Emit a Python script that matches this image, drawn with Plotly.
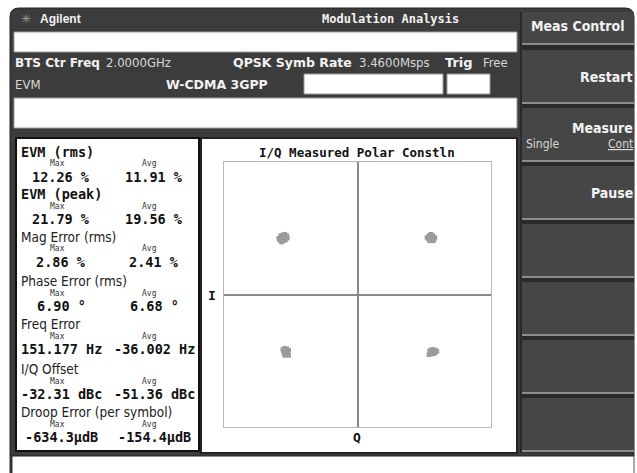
import plotly.graph_objects as go

W, H = 637, 473

# Measured results shown in the metrics panel
metric_labels = ["EVM (rms)", "EVM (peak)", "Mag Error (rms)", "Phase Error (rms)",
                 "Freq Error", "I/Q Offset", "Droop Error (per symbol)"]
metric_bold = [True, True, False, False, False, False, False]
metric_max = ["12.26 %", "21.79 %", "2.86 %", "6.90 °", "151.177 Hz", "-32.31 dBc", "-634.3µdB"]
metric_avg = ["11.91 %", "19.56 %", "2.41 %", "6.68 °", "-36.002 Hz", "-51.36 dBc", "-154.4µdB"]

# QPSK constellation: measured symbol points (Q, I), one group per quadrant
sym_q_tl = [-0.59, -0.575, -0.56, -0.545, -0.53, -0.575, -0.56, -0.545, -0.585, -0.555, -0.54, -0.525, -0.57]
sym_i_tl = [0.425, 0.445, 0.45, 0.455, 0.445, 0.425, 0.43, 0.435, 0.41, 0.405, 0.41, 0.425, 0.395]
sym_q_tr = [0.52, 0.535, 0.55, 0.565, 0.58, 0.53, 0.545, 0.56, 0.575, 0.54, 0.555, 0.57, 0.55]
sym_i_tr = [0.43, 0.445, 0.45, 0.445, 0.43, 0.42, 0.425, 0.43, 0.42, 0.405, 0.41, 0.405, 0.455]
sym_q_bl = [-0.56, -0.545, -0.53, -0.515, -0.555, -0.54, -0.525, -0.55, -0.535, -0.52, -0.545, -0.515]
sym_i_bl = [-0.415, -0.405, -0.41, -0.42, -0.43, -0.425, -0.43, -0.445, -0.445, -0.45, -0.46, -0.46]
sym_q_br = [0.54, 0.555, 0.57, 0.585, 0.595, 0.55, 0.565, 0.58, 0.545, 0.56, 0.575, 0.535]
sym_i_br = [-0.425, -0.415, -0.415, -0.42, -0.43, -0.435, -0.44, -0.44, -0.445, -0.45, -0.445, -0.455]

# Softkey menu
menu_title = "Meas Control"
softkeys = ["Restart", "Measure", "Pause", "", "", "", ""]

BEZEL = "#3c3c3c"
KEY = "#464646"
MONO = "DejaVu Sans Mono"
SANS = "DejaVu Sans"
NARROW = "DejaVu Sans Condensed, Liberation Sans Narrow, DejaVu Sans Mono"
KEYFONT = "DejaVu Sans Condensed, DejaVu Sans"


def X(px):
    return px / W


def Y(py):
    return 1 - py / H


shapes = []
annotations = []


def rect(x0, y0, x1, y1, fill, line=None, lw=0):
    shapes.append(dict(type="rect", xref="paper", yref="paper",
                       x0=X(x0), x1=X(x1), y0=Y(y1), y1=Y(y0),
                       fillcolor=fill, line=dict(color=line or fill, width=lw),
                       layer="below"))


def hline(x0, x1, y, color, lw):
    shapes.append(dict(type="line", xref="paper", yref="paper",
                       x0=X(x0), x1=X(x1), y0=Y(y), y1=Y(y),
                       line=dict(color=color, width=lw), layer="below"))


def vline(x, y0, y1, color, lw):
    shapes.append(dict(type="line", xref="paper", yref="paper",
                       x0=X(x), x1=X(x), y0=Y(y0), y1=Y(y1),
                       line=dict(color=color, width=lw), layer="below"))


def text(x, y, s, size, color="#111", family=MONO, anchor="left"):
    annotations.append(dict(x=X(x), y=Y(y), xref="paper", yref="paper", text=s,
                            showarrow=False, xanchor=anchor, yanchor="middle",
                            borderpad=0,
                            font=dict(family=family, size=size, color=color)))


# Instrument bezel with rounded top corners
r = 9
bx0, by0, bx1, by1 = 10, 8, 634, 456
path = (f"M {X(bx0)},{Y(by1)} L {X(bx0)},{Y(by0 + r)} "
        f"Q {X(bx0)},{Y(by0)} {X(bx0 + r)},{Y(by0)} "
        f"L {X(bx1 - r)},{Y(by0)} Q {X(bx1)},{Y(by0)} {X(bx1)},{Y(by0 + r)} "
        f"L {X(bx1)},{Y(by1)} Z")
shapes.append(dict(type="path", xref="paper", yref="paper", path=path,
                   fillcolor=BEZEL, line=dict(color="#222", width=1), layer="below"))
vline(11, 456, 473, "#333", 3)
vline(634, 456, 473, "#555", 1)

# Status bars
rect(14, 32, 517, 52, "white", "#9a9a9a", 1)
rect(14, 98, 517, 128, "white", "#9a9a9a", 1)
rect(304, 74, 443, 94, "white", "#9a9a9a", 1)
rect(447, 74, 490, 94, "white", "#9a9a9a", 1)

# Measurement panels
rect(201, 138, 517, 453, "white", "#222", 2)
rect(16, 138, 199, 451, "white", "#111", 2)

# Softkey column
rect(520, 12, 634, 453, "#2a2a2a")
rect(522, 12, 634, 44, KEY)
hline(522, 634, 44, "#8c8c8c", 2)
key_top = 50
for i, label in enumerate(softkeys):
    y0 = key_top + i * 58
    y1 = y0 + 53
    rect(522, y0, 634, y1, KEY)
    hline(522, 634, y1, "#8c8c8c", 2)

# Header texts
text(26, 19, "✳", 12, "#9a9a9a", SANS, "center")
text(39, 19, "<b>Agilent</b>", 12, "#f2f2f2", "Liberation Sans")
text(390, 19, "<b>Modulation Analysis</b>", 12, "#f2f2f2", MONO, "center")
text(530, 26, f"<b>{menu_title}</b>", 14, "#f2f2f2", KEYFONT)

text(14, 63, "<b>BTS Ctr Freq</b>", 12, "#f2f2f2", SANS)
text(105, 63, "2.0000GHz", 13, "#d8d8d8", NARROW)
text(232, 63, "<b>QPSK Symb Rate</b>", 12.5, "#f2f2f2", SANS)
text(358, 63, "3.4600Msps", 13, "#d8d8d8", NARROW)
text(444, 63, "<b>Trig</b>", 13, "#f2f2f2", SANS)
text(482, 63, "Free", 13, "#d8d8d8", NARROW)
text(14, 84, "EVM", 13, "#d8d8d8", NARROW)
text(165, 84, "<b>W-CDMA 3GPP</b>", 12.5, "#f2f2f2", SANS)

# Softkey labels
text(634, 77, "<b>Restart</b>", 14, "#f2f2f2", KEYFONT, "right")
text(634, 128, "<b>Measure</b>", 14, "#f2f2f2", KEYFONT, "right")
text(525, 144, "Single", 12, "#d8d8d8", NARROW)
text(634, 144, "<u>Cont</u>", 12, "#d8d8d8", NARROW, "right")
text(634, 193, "<b>Pause</b>", 14, "#f2f2f2", KEYFONT, "right")

# Metrics panel
label_y = [153, 195, 238, 282, 325, 370, 413]
for lab, bold, vmax, vavg, ly in zip(metric_labels, metric_bold, metric_max, metric_avg, label_y):
    if bold:
        text(20, ly - 1, f"<b>{lab}</b>", 13.5, "#111", MONO)
    else:
        text(20, ly - 1, lab, 13.5, "#222", NARROW)
    text(57, ly + 11, "Max", 8, "#333", MONO, "center")
    text(149, ly + 11, "Avg", 8, "#333", MONO, "center")
    text(61, ly + 23.5, f"<b>{vmax}</b>", 13.5, "#111", MONO, "center")
    text(154, ly + 23.5, f"<b>{vavg}</b>", 13.5, "#111", MONO, "center")

# Constellation labels
text(357, 152, "<b>I/Q Measured Polar Constln</b>", 12.5, "#111", MONO, "center")
text(212, 295, "<b>I</b>", 13, "#111", MONO, "center")
text(357, 437, "<b>Q</b>", 13, "#111", MONO, "center")

fig = go.Figure()
for qs, is_ in [(sym_q_tl, sym_i_tl), (sym_q_tr, sym_i_tr),
                (sym_q_bl, sym_i_bl), (sym_q_br, sym_i_br)]:
    fig.add_trace(go.Scatter(x=qs, y=is_, mode="markers", hoverinfo="skip",
                             marker=dict(symbol="square", size=4.5, color="#9b9b9b",
                                         line=dict(width=0))))

axis_common = dict(range=[-1, 1], showgrid=False, showticklabels=False, ticks="",
                   zeroline=True, zerolinecolor="#8a8a8a", zerolinewidth=2,
                   showline=True, linecolor="#b8b8b8", linewidth=1, mirror=True,
                   fixedrange=True)

fig.update_layout(
    width=W, height=H,
    margin=dict(l=0, r=0, t=0, b=0),
    paper_bgcolor="white",
    plot_bgcolor="rgba(0,0,0,0)",
    showlegend=False,
    xaxis=dict(domain=[X(224), X(491)], **axis_common),
    yaxis=dict(domain=[Y(427), Y(162)], **axis_common),
    shapes=shapes,
    annotations=annotations,
)

fig.write_html("out.html")
